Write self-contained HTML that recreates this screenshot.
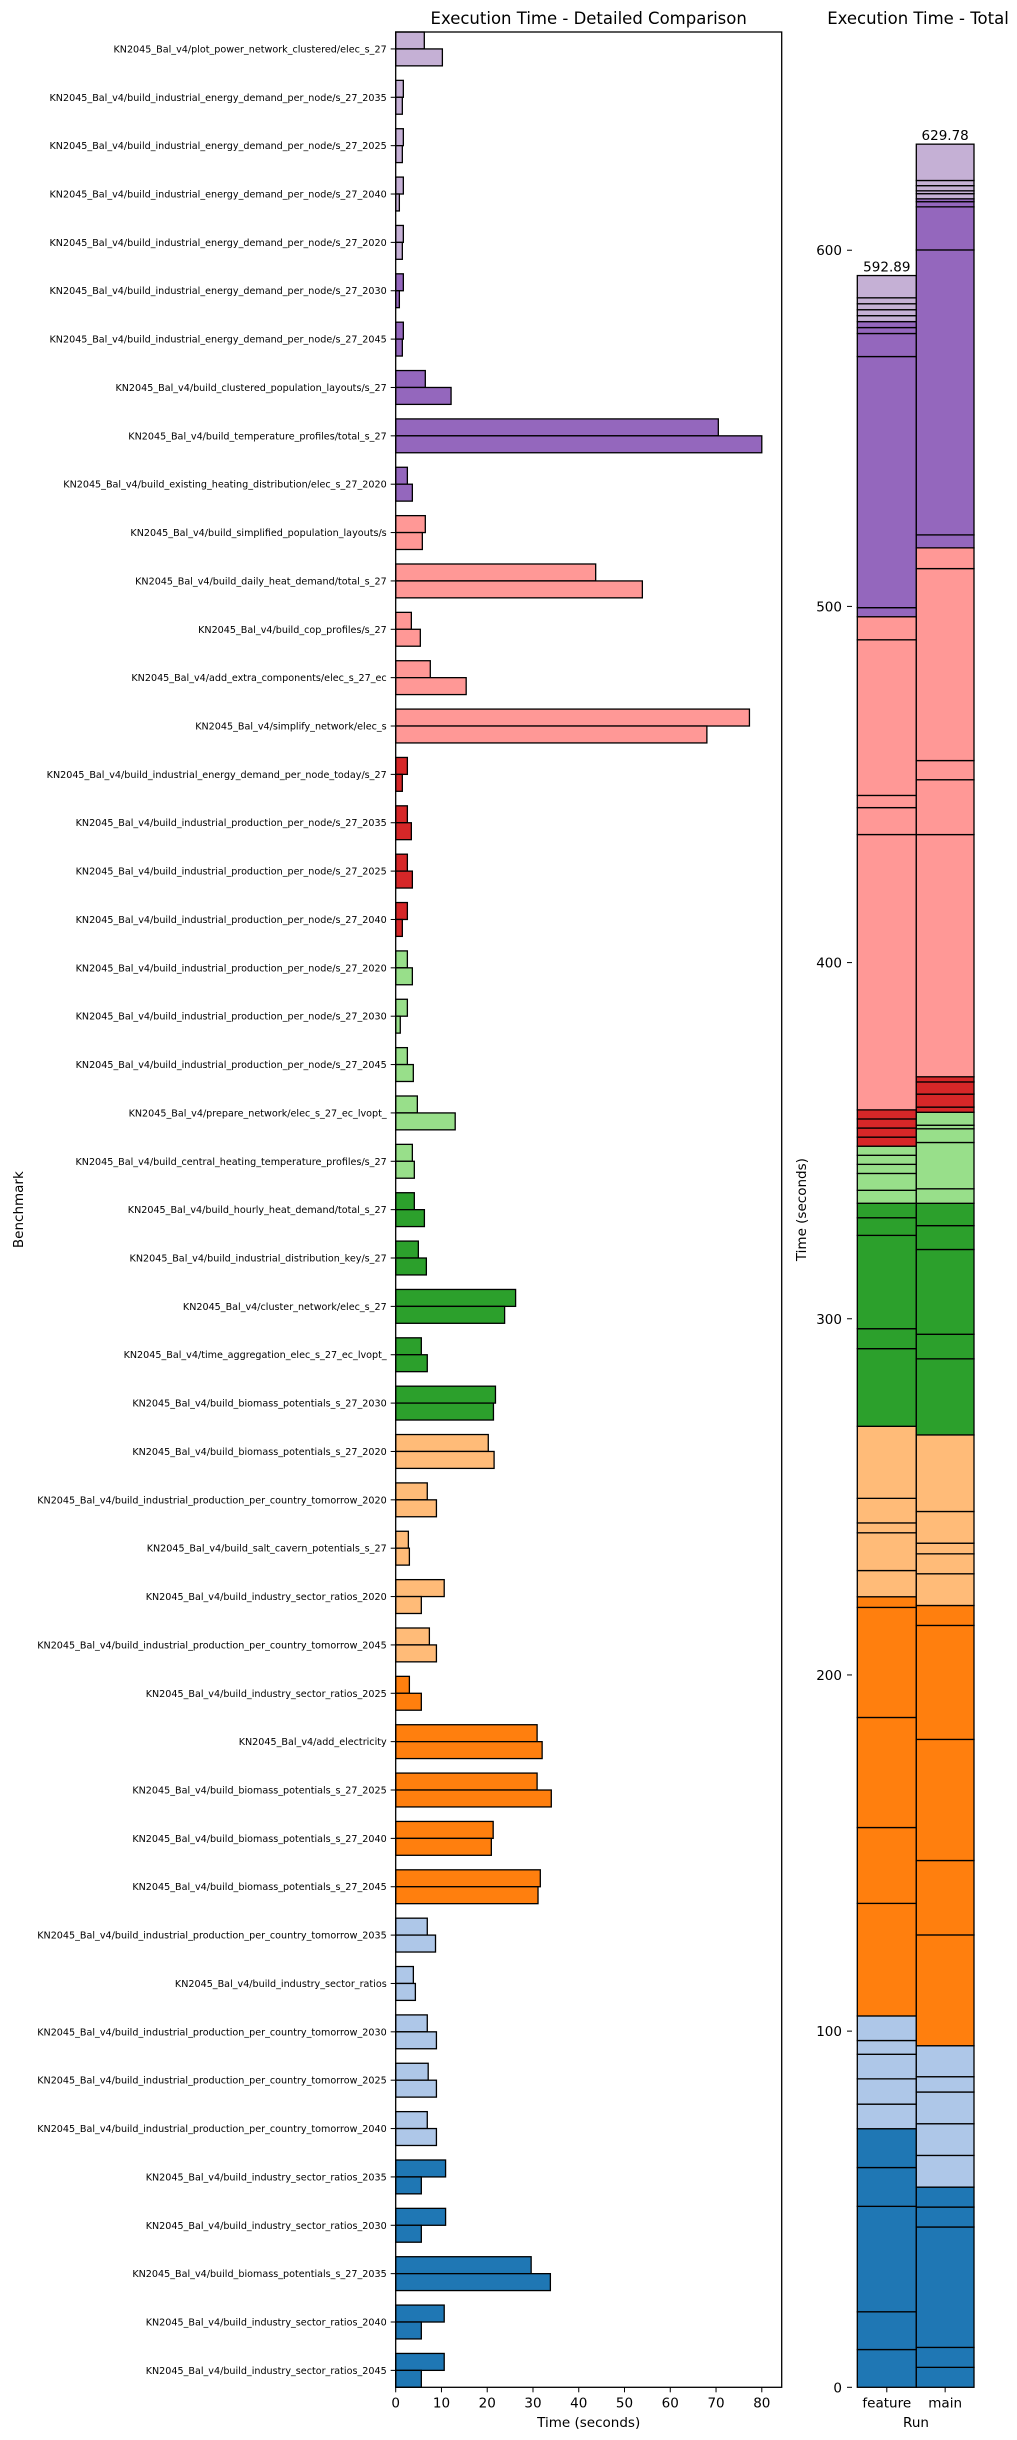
<!DOCTYPE html>
<html><head><meta charset="utf-8"><style>
html,body{margin:0;padding:0;background:#fff;}
svg{display:block;font-family:"DejaVu Sans","Liberation Sans",sans-serif;}
</style></head><body>
<svg id="chart" width="1017" height="2440" viewBox="0 0 1017 2440" xmlns="http://www.w3.org/2000/svg">
<rect x="0" y="0" width="1017" height="2440" fill="#fff"/>
<text x="588.7" y="24" font-size="16.5" text-anchor="middle" fill="#000">Execution Time - Detailed Comparison</text>
<text x="918" y="24" font-size="16.5" text-anchor="middle" fill="#000">Execution Time - Total</text>
<g id="left"></g>
<g id="right"></g>
</svg>
<script>
const benchmarks = [
"KN2045_Bal_v4/plot_power_network_clustered/elec_s_27",
"KN2045_Bal_v4/build_industrial_energy_demand_per_node/s_27_2035",
"KN2045_Bal_v4/build_industrial_energy_demand_per_node/s_27_2025",
"KN2045_Bal_v4/build_industrial_energy_demand_per_node/s_27_2040",
"KN2045_Bal_v4/build_industrial_energy_demand_per_node/s_27_2020",
"KN2045_Bal_v4/build_industrial_energy_demand_per_node/s_27_2030",
"KN2045_Bal_v4/build_industrial_energy_demand_per_node/s_27_2045",
"KN2045_Bal_v4/build_clustered_population_layouts/s_27",
"KN2045_Bal_v4/build_temperature_profiles/total_s_27",
"KN2045_Bal_v4/build_existing_heating_distribution/elec_s_27_2020",
"KN2045_Bal_v4/build_simplified_population_layouts/s",
"KN2045_Bal_v4/build_daily_heat_demand/total_s_27",
"KN2045_Bal_v4/build_cop_profiles/s_27",
"KN2045_Bal_v4/add_extra_components/elec_s_27_ec",
"KN2045_Bal_v4/simplify_network/elec_s",
"KN2045_Bal_v4/build_industrial_energy_demand_per_node_today/s_27",
"KN2045_Bal_v4/build_industrial_production_per_node/s_27_2035",
"KN2045_Bal_v4/build_industrial_production_per_node/s_27_2025",
"KN2045_Bal_v4/build_industrial_production_per_node/s_27_2040",
"KN2045_Bal_v4/build_industrial_production_per_node/s_27_2020",
"KN2045_Bal_v4/build_industrial_production_per_node/s_27_2030",
"KN2045_Bal_v4/build_industrial_production_per_node/s_27_2045",
"KN2045_Bal_v4/prepare_network/elec_s_27_ec_lvopt_",
"KN2045_Bal_v4/build_central_heating_temperature_profiles/s_27",
"KN2045_Bal_v4/build_hourly_heat_demand/total_s_27",
"KN2045_Bal_v4/build_industrial_distribution_key/s_27",
"KN2045_Bal_v4/cluster_network/elec_s_27",
"KN2045_Bal_v4/time_aggregation_elec_s_27_ec_lvopt_",
"KN2045_Bal_v4/build_biomass_potentials_s_27_2030",
"KN2045_Bal_v4/build_biomass_potentials_s_27_2020",
"KN2045_Bal_v4/build_industrial_production_per_country_tomorrow_2020",
"KN2045_Bal_v4/build_salt_cavern_potentials_s_27",
"KN2045_Bal_v4/build_industry_sector_ratios_2020",
"KN2045_Bal_v4/build_industrial_production_per_country_tomorrow_2045",
"KN2045_Bal_v4/build_industry_sector_ratios_2025",
"KN2045_Bal_v4/add_electricity",
"KN2045_Bal_v4/build_biomass_potentials_s_27_2025",
"KN2045_Bal_v4/build_biomass_potentials_s_27_2040",
"KN2045_Bal_v4/build_biomass_potentials_s_27_2045",
"KN2045_Bal_v4/build_industrial_production_per_country_tomorrow_2035",
"KN2045_Bal_v4/build_industry_sector_ratios",
"KN2045_Bal_v4/build_industrial_production_per_country_tomorrow_2030",
"KN2045_Bal_v4/build_industrial_production_per_country_tomorrow_2025",
"KN2045_Bal_v4/build_industrial_production_per_country_tomorrow_2040",
"KN2045_Bal_v4/build_industry_sector_ratios_2035",
"KN2045_Bal_v4/build_industry_sector_ratios_2030",
"KN2045_Bal_v4/build_biomass_potentials_s_27_2035",
"KN2045_Bal_v4/build_industry_sector_ratios_2040",
"KN2045_Bal_v4/build_industry_sector_ratios_2045"];
const featureTimes = [6.25,1.67,1.67,1.67,1.67,1.67,1.67,6.47,70.5,2.55, 6.47,43.7,3.42,7.56,77.3, 2.55,2.55,2.55,2.55, 2.55,2.55,2.55,4.73,3.64, 4.07,4.95,26.2,5.6,21.8, 20.23,6.9,2.77,10.6,7.36, 2.99,30.9,30.9,21.3,31.6, 6.9,3.86,6.9,7.1,6.9, 10.9,10.9,29.6,10.6,10.6];
const mainTimes = [10.2,1.45,1.45,0.8,1.45,0.8,1.45,12.1,80.0,3.64, 5.82,53.9,5.38,15.4,68.0, 1.45,3.42,3.64,1.45, 3.64,1.0,3.85,13.0,4.07, 6.27,6.7,23.8,6.9,21.36, 21.5,8.9,2.99,5.6,8.9, 5.6,32.0,34.0,20.9,31.1, 8.7,4.3,8.9,8.9,8.9, 5.6,5.6,33.8,5.6,5.6];
const colorGroups = [9,9,9,9,9, 8,8,8,8,8, 7,7,7,7,7, 6,6,6,6, 5,5,5,5,5, 4,4,4,4,4, 3,3,3,3,3, 2,2,2,2,2, 1,1,1,1,1, 0,0,0,0,0];
const palette = ["#1f77b4","#aec7e8","#ff7f0e","#ffbb78","#2ca02c","#98df8a","#d62728","#ff9896","#9467bd","#c5b0d5"];
const xTicks = [0,10,20,30,40,50,60,70,80];
const yTicksTotal = [0,100,200,300,400,500,600];
const runs = ["feature","main"];

const NS="http://www.w3.org/2000/svg";
function mk(tag, attrs, parent){const e=document.createElementNS(NS,tag);for(const k in attrs)e.setAttribute(k,attrs[k]);parent.appendChild(e);return e;}

const L={x0:395.7,x1:781.7,y0:32,y1:2387.3};
const xMax=84.35;
const xs=v=>L.x0+v/xMax*(L.x1-L.x0);
const n=benchmarks.length;
const step=(L.y1-L.y0)/(n-1+0.7);
const rowC=i=>L.y0+0.35*step+i*step;
const bh=0.35*step;
const left=document.getElementById('left');
for(let i=0;i<n;i++){
  const c=palette[colorGroups[i]], yc=rowC(i);
  const b1=mk('rect',{x:xs(0),y:yc-bh,width:xs(featureTimes[i])-xs(0),height:bh,fill:c,stroke:'#000','stroke-width':1.3},left);
  
  
  const b2=mk('rect',{x:xs(0),y:yc,width:xs(mainTimes[i])-xs(0),height:bh,fill:c,stroke:'#000','stroke-width':1.3},left);
  
  
  const t=mk('line',{x1:L.x0-5,x2:L.x0,y1:yc,y2:yc,stroke:'#000','stroke-width':1},left);
  
  
  const lb=mk('text',{x:L.x0-9,y:yc+3.5,'font-size':9.6,'text-anchor':'end',fill:'#000'},left);
  lb.textContent=benchmarks[i];
  
  
}
const frame=mk('rect',{x:L.x0,y:L.y0,width:L.x1-L.x0,height:L.y1-L.y0,fill:'none',stroke:'#000','stroke-width':1.3},left);


xTicks.forEach(v=>{
  const t=mk('line',{x1:xs(v),x2:xs(v),y1:L.y1,y2:L.y1+5,stroke:'#000','stroke-width':1},left);
  
  
  const tl=mk('text',{x:xs(v),y:L.y1+20,'font-size':13.5,'text-anchor':'middle',fill:'#000'},left);
  tl.textContent=v;
  
  
});
const xl=mk('text',{x:(L.x0+L.x1)/2,y:2427,'font-size':13.5,'text-anchor':'middle',fill:'#000'},left);
xl.textContent='Time (seconds)';


const yl=mk('text',{x:0,y:0,'font-size':13.5,'text-anchor':'middle',fill:'#000',transform:`translate(23,${(L.y0+L.y1)/2}) rotate(-90)`},left);
yl.textContent='Benchmark';



const R={x0:852,y0:32,y1:2387.3};
const yMax=661.27;
const ys=v=>R.y1-v/yMax*(R.y1-R.y0);
const barX=[857.3,916.3], barW=[59,57.7];
const right=document.getElementById('right');
[featureTimes,mainTimes].forEach((arr,r)=>{
  let cum=0;
  for(let i=n-1;i>=0;i--){
    const v=arr[i];
    const s=mk('rect',{x:barX[r],y:ys(cum+v),width:barW[r],height:ys(cum)-ys(cum+v),fill:palette[colorGroups[i]],stroke:'#000','stroke-width':1.3},right);
    
    
    cum+=v;
  }
  const tl=mk('text',{x:barX[r]+barW[r]/2,y:ys(cum)-4,'font-size':13.5,'text-anchor':'middle',fill:'#000'},right);
  tl.textContent=cum.toFixed(2);
  
  
  const tk=mk('line',{x1:barX[r]+barW[r]/2,x2:barX[r]+barW[r]/2,y1:R.y1,y2:R.y1+5,stroke:'#000','stroke-width':1},right);
  
  
  const rl=mk('text',{x:barX[r]+barW[r]/2,y:R.y1+20,'font-size':13.5,'text-anchor':'middle',fill:'#000'},right);
  rl.textContent=runs[r];
  
  
});
yTicksTotal.forEach(v=>{
  const t=mk('line',{x1:R.x0-5,x2:R.x0,y1:ys(v),y2:ys(v),stroke:'#000','stroke-width':1},right);
  
  
  const tl=mk('text',{x:R.x0-10,y:ys(v)+5,'font-size':13.5,'text-anchor':'end',fill:'#000'},right);
  tl.textContent=v;
  
  
});
const rx=mk('text',{x:916,y:2427,'font-size':13.5,'text-anchor':'middle',fill:'#000'},right);
rx.textContent='Run';


const ry=mk('text',{x:0,y:0,'font-size':13.5,'text-anchor':'middle',fill:'#000',transform:`translate(806,${(R.y0+R.y1)/2}) rotate(-90)`},right);
ry.textContent='Time (seconds)';


</script>
</body></html>
